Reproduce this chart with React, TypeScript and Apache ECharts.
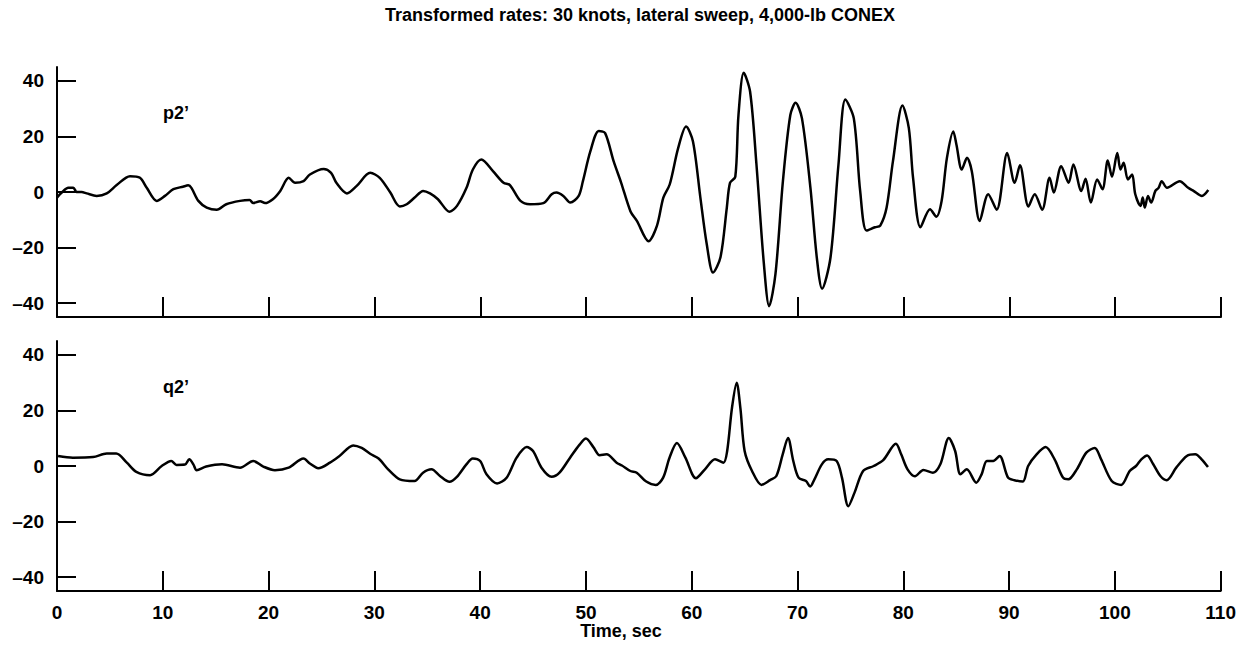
import React, { useEffect, useRef } from "react";
import * as echarts from "echarts";

const TITLE = "Transformed rates: 30 knots, lateral sweep, 4,000-lb CONEX";
const X_TITLE = "Time, sec";
const P_LABEL = "p2\u2019";
const Q_LABEL = "q2\u2019";
const yTicks = [-40, -20, 0, 20, 40];

const p2Time = [0.0,0.45,1.07,1.54,1.86,2.33,2.8,3.75,4.7,5.64,6.9,7.84,8.48,9.42,10.2,11.0,11.9,12.4,12.7,13.36,14.15,15.1,16.0,17.3,18.2,18.55,19.2,19.66,20.4,21.1,21.9,22.5,23.3,23.9,25.2,25.9,26.4,27.4,28.3,29.6,30.5,31.5,32.4,33.05,33.8,34.6,35.25,36.0,37.1,37.8,38.7,39.3,40.1,41.2,42.2,42.8,43.8,44.7,45.96,46.75,47.2,47.85,48.5,49.3,49.7,50.4,51.2,51.8,52.6,53.3,54.2,54.8,55.9,56.7,57.3,57.9,58.7,59.45,60.1,60.8,61.4,62.0,62.7,63.3,63.6,64.1,64.4,64.9,65.5,66.1,66.8,67.3,67.9,68.6,69.3,69.8,70.4,71.2,71.8,72.3,73.1,73.85,74.5,75.3,75.9,76.5,77.3,77.8,78.4,79.0,79.9,80.5,80.9,81.6,82.5,83.1,83.6,84.1,84.7,85.0,85.5,86.0,86.45,87.2,88.0,88.8,89.8,90.5,91.0,91.8,92.4,93.1,93.8,94.2,94.9,95.6,96.05,96.8,97.2,97.7,98.3,98.8,99.3,99.7,100.2,100.5,100.8,101.2,101.6,101.9,102.4,102.6,102.8,103.1,103.4,103.8,104.1,104.4,104.9,106.1,106.9,107.4,108.2,108.8];
const p2Values = [-2.0,-0.2,1.5,1.5,0,0,-0.5,-1.4,-0.5,2.5,5.7,5.1,1.5,-3.2,-1.4,1.0,1.9,2.4,1.5,-3.2,-5.6,-6.4,-4.4,-3.2,-2.9,-4.0,-3.3,-4.0,-2.6,0.4,5.1,3.3,3.9,6.3,8.3,6.9,3.3,-0.5,2.1,6.9,5.1,-0.2,-5.2,-4.4,-2.0,0.4,-0.5,-2.6,-7.1,-5.0,1.5,8.1,11.7,7.5,3.3,2.5,-3.2,-4.4,-4.0,-0.8,-0.2,-1.4,-3.8,-1.4,3.9,14.6,22.0,21.2,11.1,3.5,-7.0,-10.4,-17.7,-12.1,-2.0,2.7,15.8,23.6,18.2,-2.0,-18.7,-29.0,-23.5,-5.6,3.3,5.5,27.7,42.9,36.1,9.9,-25.8,-41.1,-29.4,3.9,27.7,32.1,26.5,1.5,-23.5,-34.8,-23.5,9.9,33.3,26.5,0.4,-13.9,-12.7,-12.1,-5.6,11.1,31.1,23.0,5.1,-12.7,-6.2,-8.9,-3.2,12.3,21.8,17.0,8.1,12.3,7.5,-10.4,-0.8,-6.4,14.0,3.3,9.6,-5.2,-0.8,-6.4,5.1,-0.2,9.3,3.3,9.9,0.4,4.8,-3.8,4.5,1.0,11.3,5.5,14.0,8.1,10.5,4.5,6.3,-0.8,-5.0,-2.0,-5.6,-1.4,-3.8,0.4,1.5,3.9,1.5,3.9,1.5,0.4,-1.4,0.7];

const q2Time = [0.1,1.5,3.4,4.7,5.6,6.6,7.5,8.8,9.9,10.8,11.3,12.1,12.5,12.9,13.2,14.1,15.6,17.3,18.55,19.5,20.6,21.9,23.3,23.9,24.7,25.8,26.7,28.0,28.8,29.6,30.4,31.3,32.4,33.8,34.6,35.4,36.2,37.1,37.8,38.7,39.3,40.0,40.6,41.6,42.5,43.45,44.4,45.0,45.8,46.75,47.5,48.5,49.4,50.0,50.7,51.3,51.95,52.9,53.4,54.2,54.8,55.7,56.6,57.3,57.9,58.6,59.4,60.4,61.25,62.2,63.0,63.35,63.8,64.25,64.6,65.0,65.7,66.6,67.4,68.0,68.6,69.1,69.6,70.1,70.8,71.2,71.6,72.3,72.9,73.7,74.2,74.8,75.4,76.2,77.2,78.1,79.3,79.8,80.4,81.1,81.9,82.8,83.5,84.3,84.9,85.4,86.0,86.9,87.4,87.9,88.5,89.1,89.9,90.5,91.3,91.8,92.6,93.45,94.3,95.1,95.6,96.4,97.3,98.1,98.7,99.7,100.6,101.4,102.0,102.5,103.05,103.6,104.3,104.9,105.8,106.8,107.6,108.2,108.8];
const q2Values = [3.6,3.0,3.2,4.5,4.5,1.2,-2.1,-3.3,0,1.8,0.4,0.5,2.4,0.5,-1.5,-0.2,0.6,-0.6,1.8,-0.2,-1.5,-0.6,2.7,0.9,-0.8,1.2,3.6,7.4,6.5,4.4,2.7,-1.2,-4.8,-5.4,-2.4,-1.2,-3.6,-5.7,-3.9,0.6,2.7,1.8,-3.0,-6.3,-4.2,3.0,6.8,5.4,-0.6,-3.9,-2.4,3.0,7.7,9.9,6.8,3.9,4.2,1.2,0.2,-1.8,-2.4,-5.6,-6.8,-4.2,3.0,8.3,3.0,-4.4,-1.2,2.4,1.2,5.4,20.8,30.0,20.8,5.4,-1.8,-6.8,-5.1,-3.6,4.2,10.1,1.8,-4.2,-5.4,-7.4,-4.8,0.6,2.4,1.8,-4.2,-14.5,-9.5,-1.8,0,2.1,8.0,4.2,-1.2,-3.7,-1.4,-2.4,0.6,10.1,5.4,-3.0,-1.2,-6.0,-3.0,1.8,1.8,3.6,-4.2,-5.1,-5.6,0,4.2,6.8,2.4,-4.2,-4.8,-1.2,4.8,6.5,2.4,-5.4,-6.8,-1.8,0,2.4,3.8,0.8,-3.6,-5.1,-0.6,3.6,4.2,2.4,-0.4];

const FONT = "Liberation Sans";

function pairs(t: number[], v: number[]) {
  return t.map((x, i) => [x, v[i]]);
}

export default function App() {
  const ref = useRef<HTMLDivElement>(null);
  useEffect(() => {
    if (!ref.current) return;
    const chart = echarts.init(ref.current, null, { renderer: "svg" });
    const lineStyle = { color: "#000", width: 2 };
    const xAxisBase = {
      type: "value",
      min: 0,
      max: 110,
      interval: 10,
      axisLine: { show: true, onZero: false, lineStyle },
      axisTick: { show: true, inside: true, length: 20, lineStyle },
      splitLine: { show: false },
    };
    const yAxisBase = {
      type: "value",
      min: -45,
      max: 45,
      axisLine: { show: true, onZero: false, lineStyle },
      axisTick: { show: true, inside: true, length: 19, lineStyle, customValues: yTicks },
      axisLabel: {
        customValues: yTicks,
        color: "#000",
        fontFamily: FONT,
        fontWeight: "bold",
        fontSize: 19,
        margin: 13,
        formatter: (v: number) => String(v).replace("-", "\u2013"),
      },
      splitLine: { show: false },
    };
    chart.setOption({
      animation: false,
      backgroundColor: "#fff",
      grid: [
        { left: 57, top: 67, width: 1164, height: 250 },
        { left: 57, top: 341, width: 1164, height: 250 },
      ],
      xAxis: [
        { ...xAxisBase, gridIndex: 0, axisLabel: { show: false } },
        {
          ...xAxisBase,
          gridIndex: 1,
          axisLabel: {
            show: true,
            color: "#000",
            fontFamily: FONT,
            fontWeight: "bold",
            fontSize: 19,
            margin: 12,
          },
        },
      ],
      yAxis: [
        { ...yAxisBase, gridIndex: 0 },
        { ...yAxisBase, gridIndex: 1 },
      ],
      graphic: [
        {
          type: "text",
          x: 640,
          y: 15,
          style: {
            text: TITLE,
            fill: "#000",
            font: `bold 18px "${FONT}"`,
            textAlign: "center",
            textVerticalAlign: "middle",
          },
        },
        {
          type: "text",
          x: 163,
          y: 104,
          style: { text: P_LABEL, fill: "#000", font: `bold 18px "${FONT}"` },
        },
        {
          type: "text",
          x: 163,
          y: 378,
          style: { text: Q_LABEL, fill: "#000", font: `bold 18px "${FONT}"` },
        },
        {
          type: "text",
          x: 621,
          y: 631,
          style: {
            text: X_TITLE,
            fill: "#000",
            font: `bold 18px "${FONT}"`,
            textAlign: "center",
            textVerticalAlign: "middle",
          },
        },
      ],
      series: [
        {
          type: "line",
          xAxisIndex: 0,
          yAxisIndex: 0,
          data: pairs(p2Time, p2Values),
          showSymbol: false,
          smooth: 0.3,
          lineStyle: { color: "#000", width: 2.5 },
        },
        {
          type: "line",
          xAxisIndex: 1,
          yAxisIndex: 1,
          data: pairs(q2Time, q2Values),
          showSymbol: false,
          smooth: 0.3,
          lineStyle: { color: "#000", width: 2.5 },
        },
      ],
    });
    return () => chart.dispose();
  }, []);
  return (
    <div
      ref={ref}
      style={{ position: "absolute", left: 0, top: 0, width: 1239, height: 646 }}
    />
  );
}
